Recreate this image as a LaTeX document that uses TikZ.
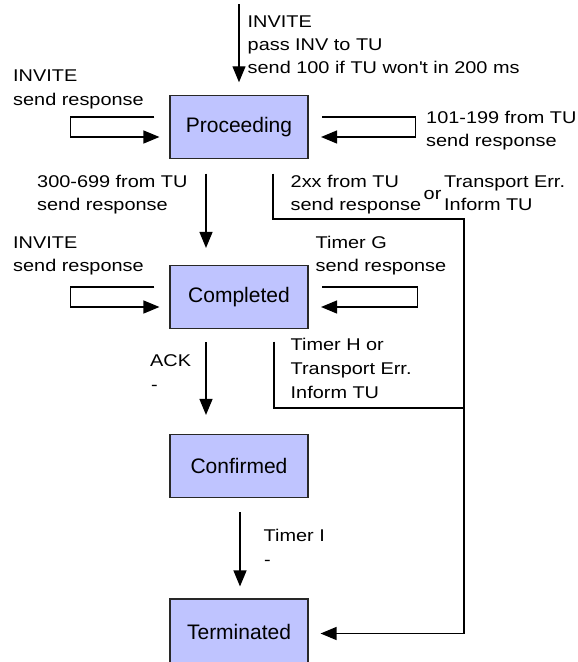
\documentclass[tikz,border=0pt]{standalone}
\usepackage{fontspec}
\setmainfont{Liberation Sans}
\newfontfamily\lblfont[FakeStretch=1.17]{Liberation Sans}
\usetikzlibrary{arrows.meta,calc}
\definecolor{statefill}{RGB}{191,196,255}
\definecolor{stateline}{RGB}{40,40,40}

\begin{document}
\begin{tikzpicture}[x=1pt,y=-1pt,
  state/.style={draw=stateline, fill=statefill, line width=1.1pt,
    minimum width=138pt, minimum height=63pt, inner sep=0pt,
    font=\fontsize{21}{21}\selectfont},
  lbl/.style={anchor=base west, inner sep=0pt,
    font=\lblfont\fontsize{17}{17}\selectfont},
  conn/.style={line width=1.25pt},
  arr/.style={conn, -{Triangle[length=16pt,width=13pt]}}]
\useasboundingbox (0,0) rectangle (578,662);

% states
\node[state] (proc) at (239,127) {Proceeding};
\node[state] (comp) at (239,297) {Completed};
\node[state] (conf) at (239,466) {Confirmed};
\node[state, minimum height=66pt] (term) at (239,632) {Terminated};

% entry
\coordinate (topin) at (239,4);
\draw[arr] (topin) -- ([shift={(0,-12.7)}]proc.north);
\node[lbl] (in1) at (247.5,27) {INVITE};
\node[lbl] (in2) at (247.5,50) {pass INV to TU};
\node[lbl] (in3) at (247.5,73) {send 100 if TU won{\textquotesingle}t in 200 ms};

% Proceeding self loops
\draw[arr] ([shift={(-15,-10)}]proc.west) -- ++(-84,0) -- ++(0,20)
  -- ([shift={(-10,10)}]proc.west);
\node[lbl] (pl1) at (13,81.7) {INVITE};
\node[lbl] (pl2) at (13,105) {send response};
\draw[arr] ([shift={(13.5,-10)}]proc.east) -- ++(93.5,0) -- ++(0,20)
  -- ([shift={(12.5,10)}]proc.east);
\node[lbl] (pr1) at (426,123.3) {101-199 from TU};
\node[lbl] (pr2) at (426,146.7) {send response};

% Proceeding -> Completed
\draw[arr] ([shift={(-33,14.5)}]proc.south) -- ([shift={(-33,-17)}]comp.north);
\node[lbl] (pc1) at (37,187.3) {300-699 from TU};
\node[lbl] (pc2) at (37,210) {send response};

% Proceeding -> Terminated
\coordinate (railtop) at (464,219);
\coordinate (railmid) at (464,408);
\draw[arr] ([shift={(34,14.5)}]proc.south) |- (railtop)
  |- ([shift={(12,1.5)}]term.east);
\node[lbl] (pt1) at (290.5,187.3) {2xx from TU};
\node[lbl] (pt2) at (290.5,210) {send response};
\node[lbl] (pt3) at (423.5,199) {or};
\node[lbl] (pt4) at (444,187.3) {Transport Err.};
\node[lbl] (pt5) at (444,210) {Inform TU};

% Completed self loops
\draw[arr] ([shift={(-15,-10)}]comp.west) -- ++(-84,0) -- ++(0,20)
  -- ([shift={(-10,10)}]comp.west);
\node[lbl] (cl1) at (13,248.3) {INVITE};
\node[lbl] (cl2) at (13,271.7) {send response};
\draw[arr] ([shift={(13.5,-10)}]comp.east) -- ++(95.5,0) -- ++(0,20)
  -- ([shift={(12.5,10)}]comp.east);
\node[lbl] (cr1) at (315.5,248.3) {Timer G};
\node[lbl] (cr2) at (315.5,271.7) {send response};

% Completed -> Confirmed
\draw[arr] ([shift={(-33,13)}]comp.south) -- ([shift={(-33,-19)}]conf.north);
\node[lbl] (cc1) at (150,366.7) {ACK};
\node[lbl] (cc2) at (151,390) {-};

% Completed -> Terminated (joins the rail)
\draw[conn] ([shift={(35,12.5)}]comp.south) |- (railmid);
\node[lbl] (ct1) at (290.5,350) {Timer H or};
\node[lbl] (ct2) at (290.5,374.3) {Transport Err.};
\node[lbl] (ct3) at (290.5,398.3) {Inform TU};

% Confirmed -> Terminated
\draw[arr] ([shift={(1,14)}]conf.south) -- ([shift={(1,-12)}]term.north);
\node[lbl] (ft1) at (263.5,541.7) {Timer I};
\node[lbl] (ft2) at (264,565) {-};
\end{tikzpicture}
\end{document}
